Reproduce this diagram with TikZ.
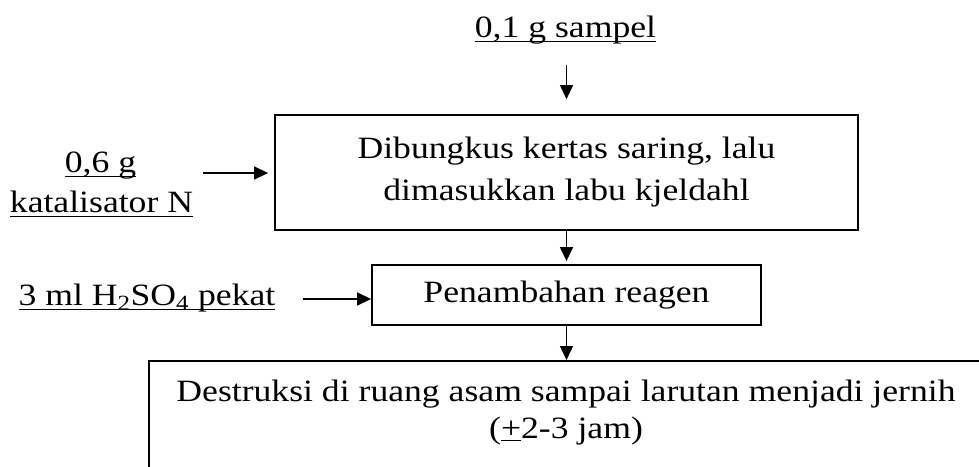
\documentclass[tikz,border=0pt]{standalone}
\usepackage{fontspec}
\setmainfont{Liberation Serif}[FakeStretch=1.15]
\usetikzlibrary{arrows.meta,calc}
\newcommand\myul[1]{\underline{\raisebox{0pt}[\height][2.5pt]{#1}}}
\begin{document}
\begin{tikzpicture}[x=1pt,y=-1pt,
  box/.style={draw,line width=1.8pt,inner sep=0pt,align=center,font=\fontsize{31}{42}\selectfont},
  lbl/.style={inner sep=0pt,anchor=base,font=\fontsize{31}{42}\selectfont},
  arr/.style={line width=1.3pt,-{Triangle[length=14pt,width=13pt]}}]
\useasboundingbox (0,0) rectangle (979,466);
\clip (0,0) rectangle (979,466);
\node[lbl] (sampel) at (565.5,37) {\myul{0,1 g sampel}};
\node[box,minimum width=583pt,minimum height=115pt] (b1) at (566.5,172.5)
  {Dibungkus kertas saring, lalu\\dimasukkan labu kjeldahl};
\node[box,minimum width=389pt,minimum height=60pt] (b2) at (566.5,295)
  {Penambahan reagen};
\node[box,anchor=north,minimum width=834pt,inner ysep=19pt,text depth=30pt,
  font=\fontsize{31}{37}\selectfont] (b3) at (566,360)
  {Destruksi di ruang asam sampai larutan menjadi jernih\\(\underline{+}2-3 jam)};
\node[lbl] (kat1) at (100.5,172) {\myul{0,6 g}};
\node[lbl] (kat2) at (101.5,212) {\myul{katalisator N}};
\node[lbl] (h2so4) at (147,305) {\myul{3 ml H\textsubscript{2}SO\textsubscript{4} pekat}};
\coordinate (a1) at (566.5,65);
\coordinate (k1) at (203,173);
\coordinate (h1) at (303,299);
\draw[arr,shorten >=15pt] (a1) -- (a1 |- b1.north);
\draw[arr,shorten >=3pt] (a1 |- b1.south) -- (a1 |- b2.north);
\draw[arr] (a1 |- b2.south) -- (a1 |- b3.north);
\draw[arr,shorten >=6pt] (k1) -- (k1 -| b1.west);
\draw[arr] (h1) -- (h1 -| b2.west);
\end{tikzpicture}
\end{document}
